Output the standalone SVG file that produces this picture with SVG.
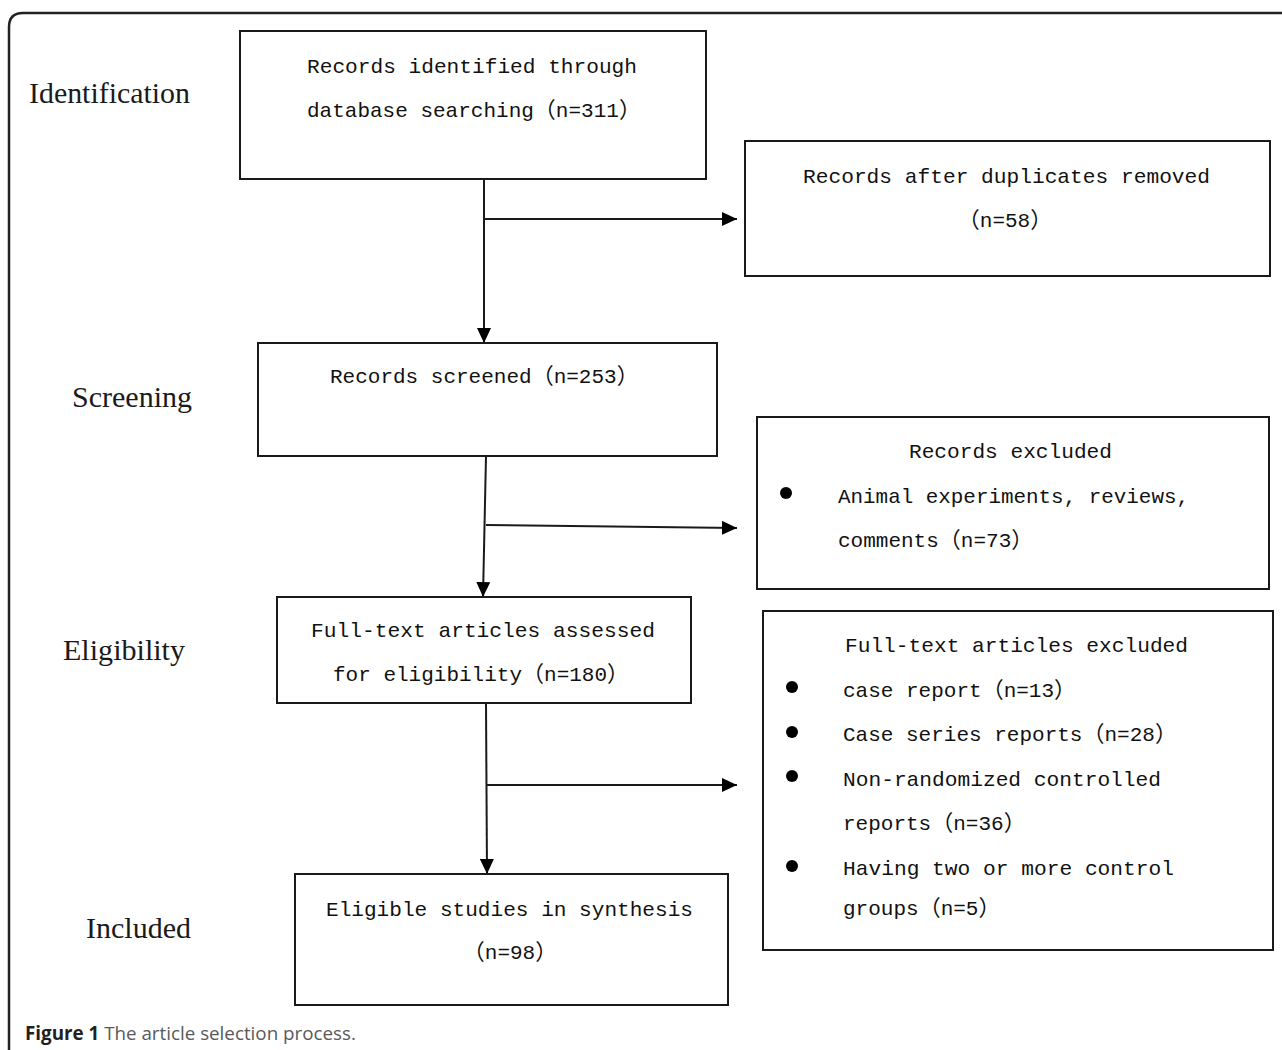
<svg xmlns="http://www.w3.org/2000/svg" width="1282" height="1050" viewBox="0 0 1282 1050">
<style>
.box{fill:#fff;stroke:#1a1a1a;stroke-width:2}
.t{font-family:"Liberation Mono",monospace;font-size:21px;fill:#111}
.p{font-family:"Noto Sans CJK SC",sans-serif;font-size:22px}
.stage{font-family:"Liberation Serif","DejaVu Serif",serif;font-size:30px;fill:#1a1a1a}
.c{stroke:#1a1a1a;stroke-width:2;fill:none}
.cap{font-family:"Open Sans","Noto Sans",sans-serif;font-size:18.8px}
</style>
<defs>
<marker id="ah" markerUnits="userSpaceOnUse" markerWidth="16" markerHeight="14" refX="15" refY="7" orient="auto">
<path d="M0,0 L15,7 L0,14 Z" fill="#000"/>
</marker>
</defs>
<rect width="1282" height="1050" fill="#fff"/>
<path d="M9,1050 L9,27 Q9,13 23,13 L1282,13" fill="none" stroke="#222" stroke-width="2.5"/>

<g id="stages">
<text class="stage" x="29" y="103" textLength="161" lengthAdjust="spacingAndGlyphs">Identification</text>
<text class="stage" x="72" y="407" textLength="120" lengthAdjust="spacingAndGlyphs">Screening</text>
<text class="stage" x="63" y="660" textLength="122" lengthAdjust="spacingAndGlyphs">Eligibility</text>
<text class="stage" x="86" y="938" textLength="105" lengthAdjust="spacingAndGlyphs">Included</text>
</g>

<g id="connectors">
<line class="c" x1="484" y1="179" x2="484" y2="343" marker-end="url(#ah)"/>
<line class="c" x1="484" y1="219" x2="737" y2="219" marker-end="url(#ah)"/>
<line class="c" x1="486" y1="456" x2="483" y2="597" marker-end="url(#ah)"/>
<line class="c" x1="486" y1="525" x2="737" y2="528" marker-end="url(#ah)"/>
<line class="c" x1="486" y1="703" x2="487" y2="874" marker-end="url(#ah)"/>
<line class="c" x1="486" y1="785" x2="737" y2="785" marker-end="url(#ah)"/>
</g>

<g id="n1">
<rect class="box" x="240" y="31" width="466" height="148"/>
<text class="t" x="307" y="73" textLength="330" lengthAdjust="spacingAndGlyphs">Records identified through</text>
<text class="t" x="307" y="117">database searching<tspan class="p">（</tspan>n=311<tspan class="p">）</tspan></text>
</g>

<g id="n2">
<rect class="box" x="745" y="141" width="525" height="135"/>
<text class="t" x="803" y="183" textLength="407" lengthAdjust="spacingAndGlyphs">Records after duplicates removed</text>
<text class="t" x="1005" y="227" text-anchor="middle"><tspan class="p">（</tspan>n=58<tspan class="p">）</tspan></text>
</g>

<g id="n3">
<rect class="box" x="258" y="343" width="459" height="113"/>
<text class="t" x="330" y="383">Records screened<tspan class="p">（</tspan>n=253<tspan class="p">）</tspan></text>
</g>

<g id="n4">
<rect class="box" x="757" y="417" width="512" height="172"/>
<text class="t" x="909" y="458" textLength="203" lengthAdjust="spacingAndGlyphs">Records excluded</text>
<circle cx="786" cy="493" r="6" fill="#000"/>
<text class="t" x="838" y="503" textLength="351" lengthAdjust="spacingAndGlyphs">Animal experiments, reviews,</text>
<text class="t" x="838" y="547">comments<tspan class="p">（</tspan>n=73<tspan class="p">）</tspan></text>
</g>

<g id="n5">
<rect class="box" x="277" y="597" width="414" height="106"/>
<text class="t" x="311" y="637" textLength="344" lengthAdjust="spacingAndGlyphs">Full-text articles assessed</text>
<text class="t" x="333" y="681">for eligibility<tspan class="p">（</tspan>n=180<tspan class="p">）</tspan></text>
</g>

<g id="n6">
<rect class="box" x="763" y="611" width="510" height="339"/>
<text class="t" x="845" y="652" textLength="343" lengthAdjust="spacingAndGlyphs">Full-text articles excluded</text>
<circle cx="792" cy="687" r="6" fill="#000"/>
<text class="t" x="843" y="697">case report<tspan class="p">（</tspan>n=13<tspan class="p">）</tspan></text>
<circle cx="792" cy="732" r="6" fill="#000"/>
<text class="t" x="843" y="741">Case series reports<tspan class="p">（</tspan>n=28<tspan class="p">）</tspan></text>
<circle cx="792" cy="776" r="6" fill="#000"/>
<text class="t" x="843" y="786" textLength="318" lengthAdjust="spacingAndGlyphs">Non-randomized controlled</text>
<text class="t" x="843" y="830">reports<tspan class="p">（</tspan>n=36<tspan class="p">）</tspan></text>
<circle cx="792" cy="866" r="6" fill="#000"/>
<text class="t" x="843" y="875" textLength="331" lengthAdjust="spacingAndGlyphs">Having two or more control</text>
<text class="t" x="843" y="915">groups<tspan class="p">（</tspan>n=5<tspan class="p">）</tspan></text>
</g>

<g id="n7">
<rect class="box" x="295" y="874" width="433" height="131"/>
<text class="t" x="326" y="916" textLength="367" lengthAdjust="spacingAndGlyphs">Eligible studies in synthesis</text>
<text class="t" x="510" y="959" text-anchor="middle"><tspan class="p">（</tspan>n=98<tspan class="p">）</tspan></text>
</g>

<g id="caption">
<text class="cap" x="25" y="1040"><tspan font-weight="bold" fill="#231f20">Figure 1</tspan><tspan fill="#58595b"> The article selection process.</tspan></text>
</g>
</svg>
